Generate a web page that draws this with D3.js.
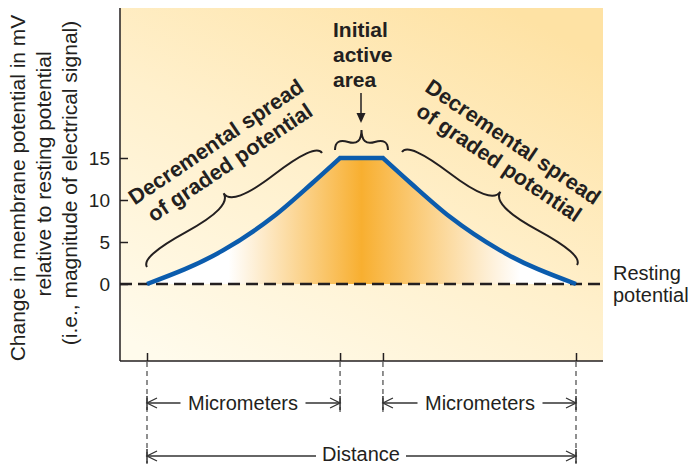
<!DOCTYPE html>
<html><head><meta charset="utf-8">
<script src="https://cdn.jsdelivr.net/npm/d3@7"></script>
<style>
html,body{margin:0;padding:0;background:#fff;}
svg text{font-family:"Liberation Sans",Arial,Helvetica,sans-serif;fill:#231f20;}
</style></head>
<body>
<svg id="c" width="691" height="464"></svg>
<script>
// ---- data ----
const distance  = [0, 17.7, 29.4, 38.5, 45, 55, 61.5, 70.6, 82.3, 100];
const potential = [0, 4, 8, 12, 15, 15, 12, 8, 4, 0];
const yTicks = [0, 5, 10, 15];
const xMarks = [0, 45, 55, 100];
const yTitle = ["Change in membrane potential in mV", "relative to resting potential", "(i.e., magnitude of electrical signal)"];
const spreadLabel = ["Decremental spread", "of graded potential"];
const activeLabel = ["Initial", "active", "area"];
const restingLabel = ["Resting", "potential"];

const svg = d3.select("#c");
const ink = "#231f20";
const plot = {l:120, r:603, t:8, b:361};
const x = d3.scaleLinear().domain([0,100]).range([147,576]);
const y = d3.scaleLinear().domain([0,15]).range([284,158]);

const defs = svg.append("defs");
const bg = defs.append("linearGradient").attr("id","bg")
  .attr("x1",0.1).attr("y1",1).attr("x2",0.8).attr("y2",0);
bg.append("stop").attr("offset","0%").attr("stop-color","#fffbec");
bg.append("stop").attr("offset","50%").attr("stop-color","#fff0cc");
bg.append("stop").attr("offset","100%").attr("stop-color","#fee2a4");

const og = defs.append("linearGradient").attr("id","og")
  .attr("gradientUnits","userSpaceOnUse")
  .attr("x1",x(0)).attr("y1",0).attr("x2",x(100)).attr("y2",0);
[[0,"#ffffff"],[0.19,"#ffffff"],[0.5,"#f8af30"],[0.87,"#ffffff"],[1,"#ffffff"]]
  .forEach(([o,c])=>og.append("stop").attr("offset",o).attr("stop-color",c));

svg.append("rect").attr("x",plot.l).attr("y",plot.t)
  .attr("width",plot.r-plot.l).attr("height",plot.b-plot.t).attr("fill","url(#bg)");

// curve
const pts = distance.map((d,i)=>[d,potential[i]]);
const line = d3.line().x(d=>x(d[0])).y(d=>y(d[1])).curve(d3.curveMonotoneX);
const leftD = line(pts.slice(0,5));
const rightD = line(pts.slice(5)).replace(/^M/,"L");
const curveD = leftD + rightD;

svg.append("path").attr("d", curveD + "Z").attr("fill","url(#og)");

// zero dashed line
svg.append("line").attr("x1",plot.l).attr("x2",plot.r).attr("y1",y(0)).attr("y2",y(0))
  .attr("stroke",ink).attr("stroke-width",2.5).attr("stroke-dasharray","12,6");

svg.append("path").attr("d",curveD).attr("fill","none")
  .attr("stroke","#0b5cad").attr("stroke-width",4.5).attr("stroke-linejoin","miter");

// axes
const yAxis = d3.axisLeft(y).tickValues(yTicks).tickSizeInner(-8).tickSizeOuter(0).tickPadding(10);
const gy = svg.append("g").attr("transform",`translate(${plot.l},0)`).call(yAxis);
gy.select(".domain").remove();
gy.selectAll(".tick line").attr("stroke",ink).attr("stroke-width",1.5);
gy.selectAll(".tick text").attr("font-size",19).attr("fill",ink)
  .style("font-family","Liberation Sans, Arial, sans-serif");

const xAxis = d3.axisBottom(x).tickValues(xMarks).tickSizeInner(-8).tickSizeOuter(0).tickFormat("");
const gx = svg.append("g").attr("transform",`translate(0,${plot.b})`).call(xAxis);
gx.select(".domain").remove();
gx.selectAll(".tick line").attr("stroke",ink).attr("stroke-width",1.5);

svg.append("line").attr("x1",plot.l).attr("x2",plot.l).attr("y1",plot.t).attr("y2",plot.b)
  .attr("stroke",ink).attr("stroke-width",1.5);
svg.append("line").attr("x1",plot.l).attr("x2",plot.r).attr("y1",plot.b).attr("y2",plot.b)
  .attr("stroke",ink).attr("stroke-width",1.5);

// dashed drop lines
xMarks.forEach((d,i)=>{
  const long = (i===0||i===xMarks.length-1);
  svg.append("line").attr("x1",x(d)).attr("x2",x(d)).attr("y1",plot.b+1).attr("y2",long?464:412)
    .attr("stroke","#555").attr("stroke-width",1.3).attr("stroke-dasharray","5,4");
});

// y title
const titleCenters = [188,174,183];
yTitle.forEach((t,i)=>{
  svg.append("text").attr("transform",`translate(${25+i*26},${titleCenters[i]}) rotate(-90)`)
    .attr("text-anchor","middle").attr("font-size",21).text(t);
});

// curly brace
function brace(x1,y1,x2,y2,w,q){
  let dx=x1-x2, dy=y1-y2; const len=Math.sqrt(dx*dx+dy*dy); dx/=len; dy/=len;
  const qx1=x1+q*w*dy, qy1=y1-q*w*dx;
  const qx2=(x1-.25*len*dx)+(1-q)*w*dy, qy2=(y1-.25*len*dy)-(1-q)*w*dx;
  const tx1=(x1-.5*len*dx)+w*dy, ty1=(y1-.5*len*dy)-w*dx;
  const qx3=x2+q*w*dy, qy3=y2-q*w*dx;
  const qx4=(x1-.75*len*dx)+(1-q)*w*dy, qy4=(y1-.75*len*dy)-(1-q)*w*dx;
  return `M${x1},${y1}Q${qx1},${qy1} ${qx2},${qy2}T${tx1},${ty1}M${x2},${y2}Q${qx3},${qy3} ${qx4},${qy4}T${tx1},${ty1}`;
}
const braceStyle = s=>s.attr("fill","none").attr("stroke",ink).attr("stroke-width",2);
svg.append("path").attr("d",brace(322,153,147,267,20,0.6)).call(braceStyle);
svg.append("path").attr("d",brace(577,265,402,152,20,0.6)).call(braceStyle);
svg.append("path").attr("d",brace(388,150,335,150,20,0.6)).call(braceStyle);

// spread labels
const ang = 34, nrm = [Math.sin(ang*Math.PI/180), Math.cos(ang*Math.PI/180)];
spreadLabel.forEach((t,i)=>{
  const cx = 220 + i*25*nrm[0], cy = 148 + i*25*nrm[1];
  svg.append("text").attr("transform",`translate(${cx},${cy}) rotate(${-ang})`)
    .attr("text-anchor","middle").attr("font-size",21.5).attr("font-weight","bold").text(t);
});
spreadLabel.forEach((t,i)=>{
  const cx = 509 - i*25*nrm[0], cy = 148 + i*25*nrm[1];
  svg.append("text").attr("transform",`translate(${cx},${cy}) rotate(${ang})`)
    .attr("text-anchor","middle").attr("font-size",21.5).attr("font-weight","bold").text(t);
});

// initial active area
activeLabel.forEach((t,i)=>{
  svg.append("text").attr("x",333).attr("y",37+i*25).attr("font-size",21)
    .attr("font-weight","bold").text(t);
});
svg.append("line").attr("x1",361).attr("x2",361).attr("y1",93).attr("y2",114)
  .attr("stroke",ink).attr("stroke-width",1.5);
svg.append("path").attr("d","M356.5,113L365.5,113L361,123Z").attr("fill",ink);

// resting potential
restingLabel.forEach((t,i)=>{
  svg.append("text").attr("x",613).attr("y",280+i*22).attr("font-size",20).text(t);
});

// dimension arrows
const dimC = "#333";
function head(xx,yy,dir){
  svg.append("path").attr("d",`M${xx+10*dir},${yy-5}L${xx},${yy}L${xx+10*dir},${yy+5}`)
    .attr("fill","none").attr("stroke",dimC).attr("stroke-width",1.3);
  svg.append("line").attr("x1",xx).attr("x2",xx).attr("y1",yy-7).attr("y2",yy+7)
    .attr("stroke",dimC).attr("stroke-width",1.5);
}
function dim(a,b,yy,ty,label,tc,tw){
  const xa=x(a), xb=x(b);
  svg.append("line").attr("x1",xa).attr("x2",tc-tw/2-5).attr("y1",yy).attr("y2",yy)
    .attr("stroke",dimC).attr("stroke-width",1.3);
  svg.append("line").attr("x1",tc+tw/2+5).attr("x2",xb).attr("y1",yy).attr("y2",yy)
    .attr("stroke",dimC).attr("stroke-width",1.3);
  head(xa,yy,1); head(xb,yy,-1);
  svg.append("text").attr("x",tc).attr("y",ty).attr("text-anchor","middle")
    .attr("font-size",20).text(label);
}
dim(0,45,403,410,"Micrometers",243,115);
dim(55,100,403,410,"Micrometers",480,115);
dim(0,100,456,461,"Distance",361,80);
</script>
</body></html>
